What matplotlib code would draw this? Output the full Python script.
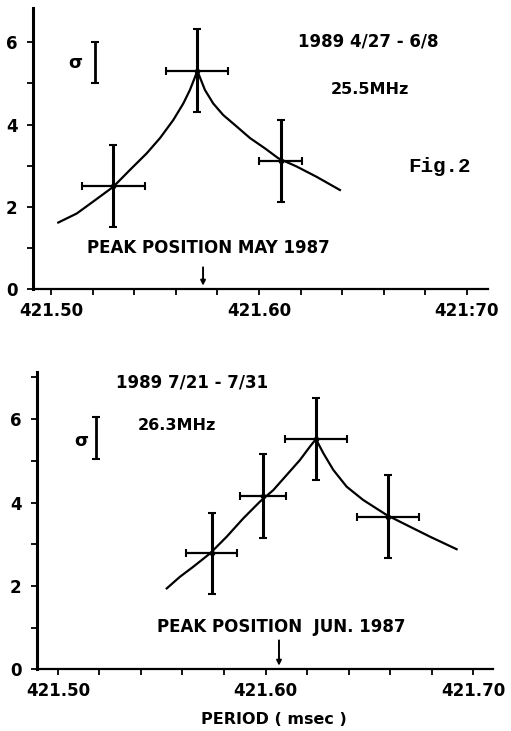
import matplotlib

matplotlib.use("Agg")
import matplotlib.pyplot as plt
from matplotlib.ticker import MultipleLocator, FixedLocator

# --- upper panel: 1989 4/27 - 6/8, 25.5 MHz
top_period = [421.5300, 421.5703, 421.6104]
top_snr = [2.51, 5.31, 3.11]
top_period_err = [0.0152, 0.0150, 0.0103]
top_snr_err = [1.0, 1.0, 1.0]
top_curve_period = [421.5035, 421.5124, 421.5203, 421.5300, 421.5380, 421.5460, 421.5524,
                    421.5588, 421.5636, 421.5668, 421.5696, 421.5703, 421.5740, 421.5780,
                    421.5828, 421.5893, 421.5957, 421.6029, 421.6093, 421.6181, 421.6277,
                    421.6389]
top_curve_snr = [1.62, 1.84, 2.13, 2.49, 2.90, 3.30, 3.67, 4.11, 4.51, 4.84, 5.20, 5.31,
                 4.84, 4.51, 4.23, 3.95, 3.67, 3.42, 3.18, 2.98, 2.73, 2.41]
top_peak_1987 = 421.5731

# --- lower panel: 1989 7/21 - 7/31, 26.3 MHz
bot_period = [421.5741, 421.5989, 421.6243, 421.6592]
bot_snr = [2.78, 4.16, 5.52, 3.66]
bot_period_err = [0.0124, 0.0110, 0.0151, 0.0150]
bot_snr_err = [0.98, 1.0, 0.98, 1.0]
bot_curve_period = [421.5524, 421.5588, 421.5652, 421.5733, 421.5813, 421.5893, 421.5973,
                    421.6038, 421.6102, 421.6166, 421.6214, 421.6243, 421.6279, 421.6327,
                    421.6391, 421.6471, 421.6584, 421.6680, 421.6793, 421.6921]
bot_curve_snr = [1.94, 2.22, 2.46, 2.78, 3.18, 3.62, 4.02, 4.30, 4.66, 5.02, 5.34, 5.52,
                 5.18, 4.78, 4.38, 4.06, 3.70, 3.46, 3.18, 2.88]
bot_peak_1987 = 421.6065

sigma = 1.0
x_major = [421.50, 421.60, 421.70]
top_xlabels = ["421.50", "421.60", "421:70"]
bot_xlabels = ["421.50", "421.60", "421.70"]
y_major = [0, 2, 4, 6]

plt.rcParams["font.family"] = ["DejaVu Sans"]
plt.rcParams["font.weight"] = "bold"

fig = plt.figure(figsize=(5.11, 7.31), dpi=100)
ax1 = fig.add_axes([0.0646, 0.6043, 0.8904, 0.3848])
ax2 = fig.add_axes([0.0724, 0.0844, 0.8924, 0.4067])


def style_axes(ax, xlim, ytop, xlabels):
    ax.set_xlim(*xlim)
    ax.set_ylim(0, ytop)
    for s in ("top", "right"):
        ax.spines[s].set_visible(False)
    ax.spines["left"].set_linewidth(2.2)
    ax.spines["bottom"].set_linewidth(1.6)
    ax.xaxis.set_major_locator(FixedLocator(x_major))
    ax.xaxis.set_minor_locator(MultipleLocator(0.02))
    ax.set_xticklabels(xlabels, fontsize=12, fontweight="bold")
    ax.yaxis.set_major_locator(FixedLocator(y_major))
    ax.yaxis.set_minor_locator(MultipleLocator(1))
    ax.set_yticklabels([str(v) for v in y_major], fontsize=12, fontweight="bold")
    ax.tick_params(axis="both", which="both", direction="out", length=4, width=1.3)
    ax.tick_params(axis="x", pad=5)
    ax.tick_params(axis="y", pad=7)


def draw_panel(ax, px, py, pxe, pye, cx, cy, sigma_x, sigma_lo, peak_x, arrow_top):
    ax.plot(cx, cy, color="black", lw=1.6, solid_joinstyle="round")
    ax.errorbar(px, py, yerr=pye, fmt="none", ecolor="black", elinewidth=2.2,
                capsize=3, capthick=1.5)
    ax.errorbar(px, py, xerr=pxe, fmt="none", ecolor="black", elinewidth=1.6,
                capsize=3, capthick=1.5)
    ax.plot(px, py, "o", color="black", ms=3)
    ax.errorbar([sigma_x], [sigma_lo + sigma / 2], yerr=sigma / 2, fmt="none",
                ecolor="black", elinewidth=2.0, capsize=3, capthick=1.5)
    ax.annotate("", xy=(peak_x, 0.02), xytext=(peak_x, arrow_top),
                arrowprops=dict(arrowstyle="-|>", color="black", lw=1.4,
                                mutation_scale=7))


style_axes(ax1, (421.49135, 421.7101), 6.83, top_xlabels)
style_axes(ax2, (421.48988, 421.70964), 7.13, bot_xlabels)

draw_panel(ax1, top_period, top_snr, top_period_err, top_snr_err,
           top_curve_period, top_curve_snr, 421.5212, 5.0, top_peak_1987, 0.6)
draw_panel(ax2, bot_period, bot_snr, bot_period_err, bot_snr_err,
           bot_curve_period, bot_curve_snr, 421.5183, 5.04, bot_peak_1987, 0.76)

txt = dict(ha="center", va="center", fontweight="bold", color="black")
ax1.text(421.6524, 6.02, "1989 4/27 - 6/8", fontsize=12, **txt)
ax1.text(421.6534, 4.86, "25.5MHz", fontsize=11.5, **txt)
ax1.text(421.687, 2.97, "Fig.2", fontsize=15, family="Liberation Mono", **txt)
ax1.text(421.5115, 5.49, "σ", fontsize=13, **txt)
ax1.text(421.5756, 1.0, "PEAK POSITION MAY 1987", fontsize=12, **txt)

ax2.text(421.5648, 6.88, "1989 7/21 - 7/31", fontsize=12, **txt)
ax2.text(421.5572, 5.84, "26.3MHz", fontsize=11.5, **txt)
ax2.text(421.5111, 5.47, "σ", fontsize=13, **txt)
ax2.text(421.6075, 1.02, "PEAK POSITION  JUN. 1987", fontsize=12, **txt)
fig.text(274 / 511, 1 - 719 / 731, "PERIOD ( msec )", fontsize=11.5,
         fontweight="bold", ha="center", va="center")

fig.savefig("out.png", dpi=100, facecolor="white")
